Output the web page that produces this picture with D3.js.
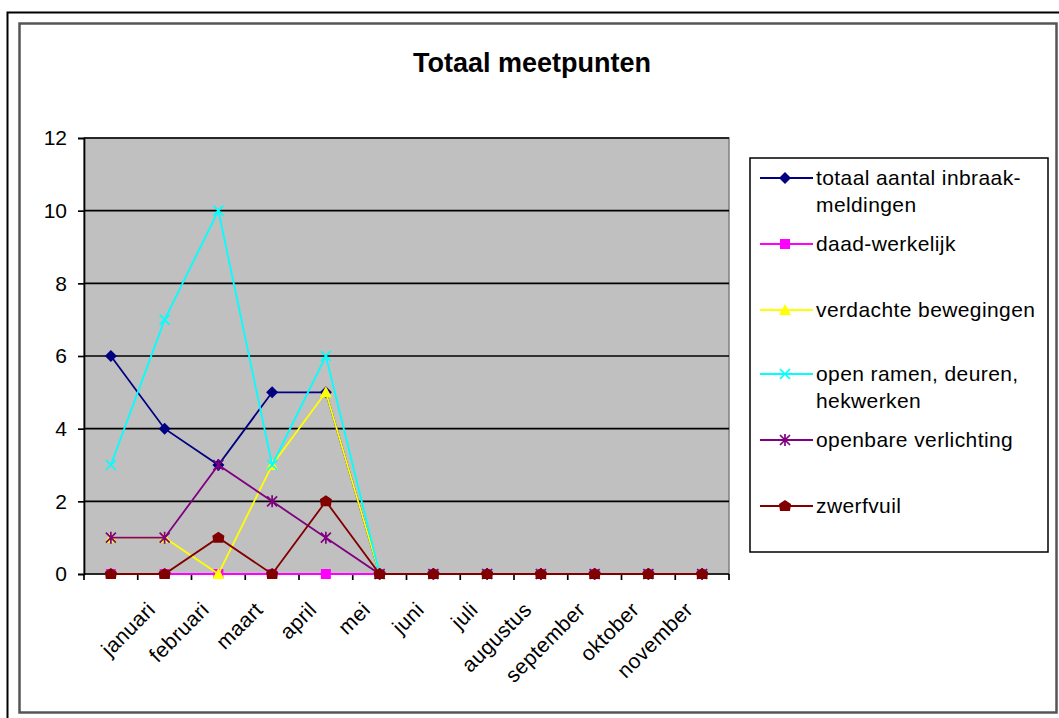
<!DOCTYPE html>
<html><head><meta charset="utf-8">
<script src="https://cdn.jsdelivr.net/npm/d3@7"></script>
<style>
html,body{margin:0;padding:0;background:#fff;}
text{font-family:"Liberation Sans",Arial,sans-serif;}
</style></head>
<body><svg id="c" width="1059" height="718"></svg>
<script>
const categories = ["", "januari", "februari", "maart", "april", "mei", "juni", "juli", "augustus", "september", "oktober", "november"];
const yTicks = [0, 2, 4, 6, 8, 10, 12];
const totaal = [6, 4, 3, 5, 5, 0, 0, 0, 0, 0, 0, 0];
const daad = [0, 0, 0, 0, 0, 0, 0, 0, 0, 0, 0, 0];
const verdacht = [1, 1, 0, 3, 5, 0, 0, 0, 0, 0, 0, 0];
const openRamen = [3, 7, 10, 3, 6, 0, 0, 0, 0, 0, 0, 0];
const verlichting = [1, 1, 3, 2, 1, 0, 0, 0, 0, 0, 0, 0];
const zwerfvuil = [0, 0, 1, 0, 2, 0, 0, 0, 0, 0, 0, 0];
const seriesNames = [["totaal aantal inbraak-", "meldingen"], ["daad-werkelijk"], ["verdachte bewegingen"], ["open ramen, deuren,", "hekwerken"], ["openbare verlichting"], ["zwerfvuil"]];
const seriesValues = [totaal, daad, verdacht, openRamen, verlichting, zwerfvuil];
const seriesColors = ["#000080", "#FF00FF", "#FFFF00", "#00FFFF", "#800080", "#800000"];
const seriesMarkers = ["diamond", "square", "triangle", "x", "star", "circle"];

const svg = d3.select("#c");
// frames
svg.append("path").attr("d", "M7.5,718 V12.5 H1059").attr("fill", "none").attr("stroke", "#000").attr("stroke-width", 2);
svg.append("rect").attr("x", 19.5).attr("y", 23.5).attr("width", 1037).attr("height", 689).attr("fill", "#fff").attr("stroke", "#555").attr("stroke-width", 2.5);

svg.append("text").attr("x", 532).attr("y", 72).attr("text-anchor", "middle").attr("font-size", 27).attr("font-weight", "bold").text("Totaal meetpunten");

const L = 84, R = 729, T = 138, B = 574;
const FS = 21, LS = 0.4;
const x = d3.scaleBand().domain(categories).range([L, R]);
const cx = c => x(c) + x.bandwidth() / 2;
const y = d3.scaleLinear().domain([0, 12]).range([B, T]);

svg.append("rect").attr("x", L).attr("y", T).attr("width", R - L).attr("height", B - T).attr("fill", "#c0c0c0").attr("stroke", "#808080").attr("stroke-width", 1.5);

svg.append("g").selectAll("line").data(yTicks.filter(d => d > 0)).join("line")
  .attr("x1", L).attr("x2", R).attr("y1", d => y(d)).attr("y2", d => y(d)).attr("stroke", "#000").attr("stroke-width", 1.7);

const yAxis = svg.append("g").attr("transform", `translate(${L},0)`).call(d3.axisLeft(y).tickValues(yTicks).tickSize(6).tickPadding(11));
yAxis.select(".domain").attr("stroke", "#000").attr("stroke-width", 1.7);
yAxis.selectAll(".tick line").attr("stroke-width", 1.7);
yAxis.selectAll("text").attr("font-size", FS).attr("fill", "#000").style("font-family", "'Liberation Sans',Arial,sans-serif");

// x axis with ticks at category boundaries
const xg = svg.append("g");
xg.append("line").attr("x1", L).attr("x2", R).attr("y1", B).attr("y2", B).attr("stroke", "#000").attr("stroke-width", 1.7);
xg.selectAll("line.t").data(categories.map((c, i) => i).concat([categories.length])).join("line").attr("class", "t")
  .attr("x1", i => L + i * x.step()).attr("x2", i => L + i * x.step()).attr("y1", B).attr("y2", B + 6).attr("stroke", "#000").attr("stroke-width", 1.7);
xg.selectAll("text").data(categories).join("text")
  .attr("transform", c => `translate(${cx(c) - 8},${B + 37}) rotate(-45)`)
  .attr("text-anchor", "end").attr("font-size", FS).attr("letter-spacing", LS).text(c => c);

function marker(g, type, color, px, py) {
  if (type === "diamond") g.append("path").attr("d", `M${px},${py-6}L${px+6},${py}L${px},${py+6}L${px-6},${py}Z`).attr("fill", color);
  else if (type === "square") g.append("rect").attr("x", px - 5).attr("y", py - 5).attr("width", 10).attr("height", 10).attr("fill", color);
  else if (type === "triangle") g.append("path").attr("d", `M${px},${py-6}L${px+6},${py+5}L${px-6},${py+5}Z`).attr("fill", color);
  else if (type === "x") g.append("path").attr("d", `M${px-5},${py-5}L${px+5},${py+5}M${px+5},${py-5}L${px-5},${py+5}`).attr("stroke", color).attr("stroke-width", 1.7);
  else if (type === "star") g.append("path").attr("d", `M${px-5},${py-5}L${px+5},${py+5}M${px+5},${py-5}L${px-5},${py+5}M${px},${py-6}V${py+6}`).attr("stroke", color).attr("stroke-width", 1.7);
  else if (type === "circle") g.append("path").attr("d", `M${px},${py-6}L${px+6},${py-2}L${px+5},${py+5}L${px-5},${py+5}L${px-6},${py-2}Z`).attr("fill", color);
}

const line = d3.line().x((d, i) => cx(categories[i])).y(d => y(d));
seriesValues.forEach((vals, s) => {
  const g = svg.append("g");
  g.append("path").datum(vals).attr("d", line).attr("fill", "none").attr("stroke", seriesColors[s]).attr("stroke-width", 1.8);
  vals.forEach((v, i) => marker(g, seriesMarkers[s], seriesColors[s], cx(categories[i]), y(v)));
});

// legend
const lg = svg.append("g");
lg.append("rect").attr("x", 750).attr("y", 158).attr("width", 298).attr("height", 394).attr("fill", "#fff").attr("stroke", "#000").attr("stroke-width", 1.5);
const legendY = [178, 244, 310, 374, 440, 506];
seriesNames.forEach((lines, s) => {
  const g = lg.append("g");
  g.append("line").attr("x1", 760).attr("x2", 813).attr("y1", legendY[s]).attr("y2", legendY[s]).attr("stroke", seriesColors[s]).attr("stroke-width", 1.8);
  marker(g, seriesMarkers[s], seriesColors[s], 785, legendY[s]);
  lines.forEach((t, k) => g.append("text").attr("x", 816).attr("y", legendY[s] + k * 27 + 7).attr("font-size", FS).attr("letter-spacing", LS).text(t));
});
</script></body></html>
